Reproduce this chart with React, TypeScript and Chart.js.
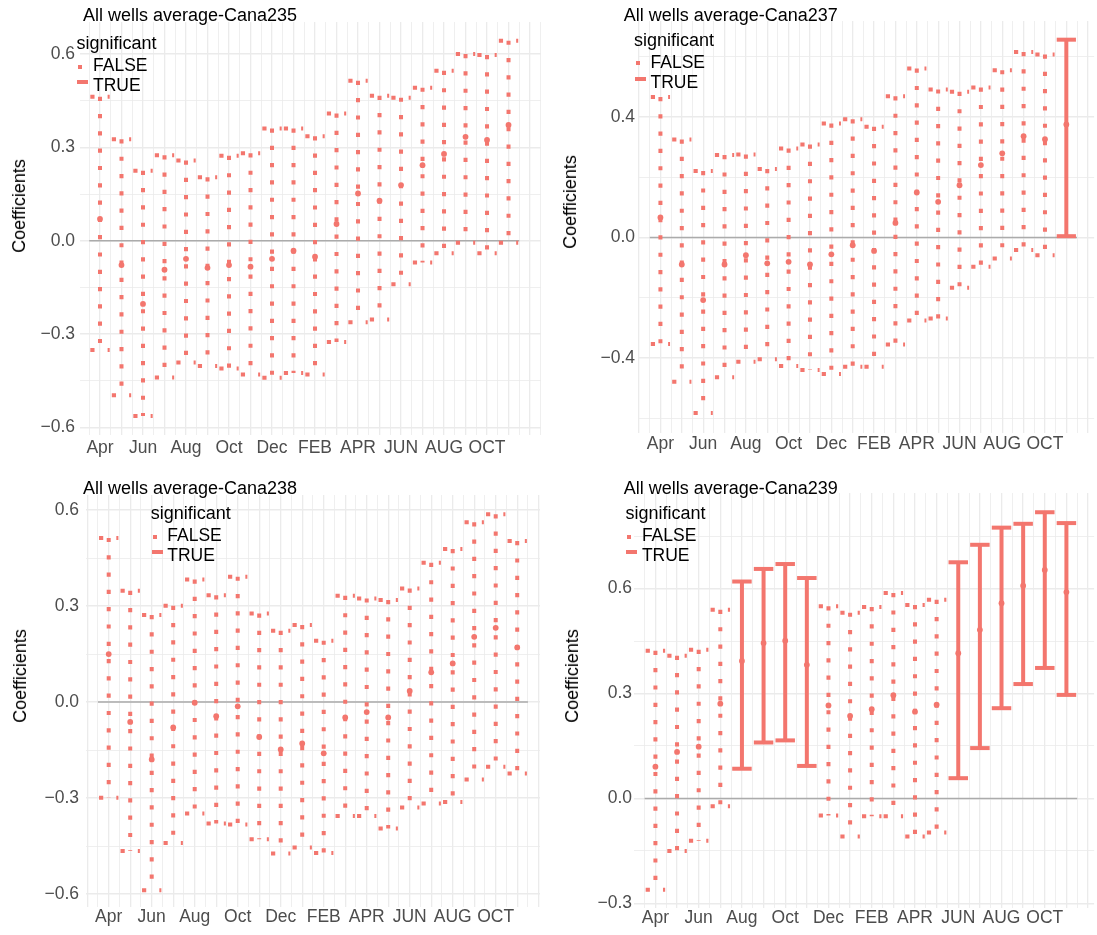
import React, { useEffect, useRef } from "react";
import { Chart, registerables } from "chart.js";

Chart.register(...registerables);

// ---------- categories ----------
const MONTHS = ["Apr", "May", "Jun", "Jul", "Aug", "Sep", "Oct", "Nov", "Dec", "Jan", "FEB", "MAR", "APR", "MAY", "JUN", "JUL", "AUG", "SEP", "OCT", "NOV"];

// ---------- Cana235 ----------
const CANA235_EST = [0.070, -0.078, -0.203, -0.093, -0.058, -0.087, -0.078, -0.083, -0.058, -0.032, -0.051, 0.054, 0.152, 0.129, 0.179, 0.243, 0.279, 0.334, 0.324, 0.372];
const CANA235_LOW = [-0.351, -0.496, -0.563, -0.439, -0.391, -0.402, -0.410, -0.430, -0.440, -0.425, -0.430, -0.325, -0.262, -0.253, -0.140, -0.070, -0.040, -0.006, -0.040, -0.006];
const CANA235_HIGH = [0.463, 0.326, 0.225, 0.275, 0.258, 0.204, 0.273, 0.281, 0.361, 0.361, 0.336, 0.409, 0.514, 0.466, 0.460, 0.492, 0.546, 0.600, 0.597, 0.643];
const CANA235_SIG = [false, false, false, false, false, false, false, false, false, false, false, false, false, false, false, false, false, false, false, false];

// ---------- Cana237 ----------
const CANA237_EST = [0.066, -0.090, -0.208, -0.090, -0.059, -0.086, -0.081, -0.090, -0.056, -0.026, -0.045, 0.048, 0.149, 0.118, 0.173, 0.240, 0.279, 0.336, 0.326, 0.375];
const CANA237_LOW = [-0.354, -0.479, -0.583, -0.464, -0.413, -0.404, -0.427, -0.440, -0.453, -0.429, -0.429, -0.355, -0.276, -0.269, -0.167, -0.097, -0.070, -0.042, -0.059, 0.004];
const CANA237_HIGH = [0.466, 0.325, 0.220, 0.273, 0.275, 0.227, 0.295, 0.308, 0.378, 0.392, 0.367, 0.468, 0.560, 0.491, 0.483, 0.497, 0.555, 0.615, 0.607, 0.656];
const CANA237_SIG = [false, false, false, false, false, false, false, false, false, false, false, false, false, false, false, false, false, false, false, true];

// ---------- Cana238 ----------
const CANA238_EST = [0.150, -0.062, -0.179, -0.079, -0.002, -0.044, -0.013, -0.109, -0.148, -0.129, -0.160, -0.048, -0.031, -0.048, 0.035, 0.093, 0.121, 0.204, 0.232, 0.171];
const CANA238_LOW = [-0.299, -0.465, -0.588, -0.440, -0.348, -0.379, -0.382, -0.428, -0.473, -0.454, -0.471, -0.356, -0.356, -0.395, -0.329, -0.317, -0.312, -0.242, -0.202, -0.223];
const CANA238_HIGH = [0.513, 0.348, 0.272, 0.301, 0.383, 0.334, 0.392, 0.277, 0.223, 0.241, 0.192, 0.332, 0.324, 0.319, 0.355, 0.435, 0.478, 0.562, 0.587, 0.503];
const CANA238_SIG = [false, false, false, false, false, false, false, false, false, false, false, false, false, false, false, false, false, false, false, false];

// ---------- Cana239 ----------
const CANA239_EST = [0.091, 0.133, 0.148, 0.271, 0.393, 0.444, 0.451, 0.382, 0.266, 0.236, 0.255, 0.295, 0.248, 0.268, 0.415, 0.482, 0.558, 0.608, 0.653, 0.590];
const CANA239_LOW = [-0.261, -0.150, -0.121, -0.022, 0.085, 0.160, 0.166, 0.093, -0.049, -0.109, -0.051, -0.051, -0.109, -0.097, 0.058, 0.144, 0.258, 0.327, 0.373, 0.296];
const CANA239_HIGH = [0.422, 0.408, 0.425, 0.539, 0.620, 0.656, 0.670, 0.630, 0.549, 0.531, 0.547, 0.587, 0.553, 0.568, 0.675, 0.725, 0.774, 0.785, 0.818, 0.787];
const CANA239_SIG = [false, false, false, false, true, true, true, true, false, false, false, false, false, false, true, true, true, true, true, true];

// ---------- y tick values ----------
const Y235_MAJOR = [-0.6, -0.3, 0.0, 0.3, 0.6];
const Y235_MINOR = [-0.45, -0.15, 0.15, 0.45];
const Y237_MAJOR = [-0.4, 0.0, 0.4];
const Y237_MINOR = [-0.6, -0.2, 0.2, 0.6];
const Y238_MAJOR = [-0.6, -0.3, 0.0, 0.3, 0.6];
const Y238_MINOR = [-0.45, -0.15, 0.15, 0.45];
const Y239_MAJOR = [-0.3, 0.0, 0.3, 0.6];
const Y239_MINOR = [-0.15, 0.15, 0.45, 0.75];

const LEGEND_TITLE = "significant";
const LEGEND_LABELS = ["FALSE", "TRUE"];
const Y_TITLE = "Coefficients";

// ---------- styles ----------
const FONT = "'Liberation Sans', Arial, Helvetica, sans-serif";
const BAR_COLOR = "#F3766E";
const ZERO_COLOR = "#ABABAB";
const GRID_COLOR = "#EBEBEB";
const TICK_COLOR = "#4D4D4D";
const TEXT_SIZE = 17.5;
const CAP_HALF_WIDTH = 0.45;

type PanelCfg = {
  title: string;
  est: number[];
  low: number[];
  high: number[];
  sig: boolean[];
  yMajor: number[];
  yMinor: number[];
  box: { x: number; y: number; w: number; h: number };
  area: { l: number; r: number; t: number; b: number };
  xRange: [number, number];
  yRange: [number, number];
  yPad: number;
  xPad: number;
  titlePos: { x: number; y: number };
  yTitlePos: { x: number; y: number };
  legendPos: { x: number; y: number };
};

const PANELS: PanelCfg[] = [
  {
    title: "All wells average-Cana235",
    est: CANA235_EST, low: CANA235_LOW, high: CANA235_HIGH, sig: CANA235_SIG,
    yMajor: Y235_MAJOR, yMinor: Y235_MINOR,
    box: { x: 0, y: 0, w: 548, h: 467 },
    area: { l: 80, r: 541, t: 22, b: 435 },
    xRange: [-0.93, 20.51], yRange: [-0.624, 0.703],
    yPad: 5, xPad: 3,
    titlePos: { x: 83, y: 15 }, yTitlePos: { x: 19, y: 206 }, legendPos: { x: 76.5, y: 43.3 },
  },
  {
    title: "All wells average-Cana237",
    est: CANA237_EST, low: CANA237_LOW, high: CANA237_HIGH, sig: CANA237_SIG,
    yMajor: Y237_MAJOR, yMinor: Y237_MINOR,
    box: { x: 548, y: 0, w: 549, h: 467 },
    area: { l: 638, r: 1097, t: 21, b: 433 },
    xRange: [-1.05, 20.3], yRange: [-0.649, 0.718],
    yPad: 3, xPad: 1,
    titlePos: { x: 623.7, y: 15 }, yTitlePos: { x: 570, y: 202 }, legendPos: { x: 634, y: 40 },
  },
  {
    title: "All wells average-Cana238",
    est: CANA238_EST, low: CANA238_LOW, high: CANA238_HIGH, sig: CANA238_SIG,
    yMajor: Y238_MAJOR, yMinor: Y238_MINOR,
    box: { x: 0, y: 467, w: 548, h: 468 },
    area: { l: 86, r: 540, t: 495, b: 907 },
    xRange: [-1.056, 20.06], yRange: [-0.640, 0.647],
    yPad: 7, xPad: 0,
    titlePos: { x: 83, y: 488.3 }, yTitlePos: { x: 20, y: 676 }, legendPos: { x: 150.8, y: 513.3 },
  },
  {
    title: "All wells average-Cana239",
    est: CANA239_EST, low: CANA239_LOW, high: CANA239_HIGH, sig: CANA239_SIG,
    yMajor: Y239_MAJOR, yMinor: Y239_MINOR,
    box: { x: 548, y: 467, w: 549, h: 468 },
    area: { l: 634, r: 1097, t: 493, b: 908 },
    xRange: [-0.99, 20.28], yRange: [-0.313, 0.873],
    yPad: 2, xPad: 0,
    titlePos: { x: 623.7, y: 488.3 }, yTitlePos: { x: 572, y: 676 }, legendPos: { x: 625.4, y: 513.3 },
  },
];

function fmtY(v: number): string {
  const s = Math.abs(v).toFixed(1);
  return v < -1e-9 ? "\u2212" + s : s;
}

function isIn(v: number, list: number[]) {
  return list.some((m) => Math.abs(m - v) < 1e-6);
}

function makeErrorBarPlugin(p: PanelCfg) {
  return {
    id: "errorBars",
    beforeDatasetsDraw(chart: any) {
      const { ctx, chartArea } = chart;
      const x = chart.scales.x;
      const y = chart.scales.y;
      ctx.save();
      ctx.beginPath();
      ctx.rect(chartArea.left, chartArea.top, chartArea.right - chartArea.left, chartArea.bottom - chartArea.top);
      ctx.clip();
      // zero reference line across the data range
      ctx.setLineDash([]);
      ctx.strokeStyle = ZERO_COLOR;
      ctx.lineWidth = 1.5;
      ctx.beginPath();
      ctx.moveTo(x.getPixelForValue(-0.5), y.getPixelForValue(0));
      ctx.lineTo(x.getPixelForValue(MONTHS.length - 0.5), y.getPixelForValue(0));
      ctx.stroke();
      // error bars
      ctx.strokeStyle = BAR_COLOR;
      ctx.lineCap = "butt";
      const seg = (x1: number, y1: number, x2: number, y2: number) => {
        ctx.beginPath();
        ctx.moveTo(x1, y1);
        ctx.lineTo(x2, y2);
        ctx.stroke();
      };
      p.low.forEach((lo, i) => {
        const hi = p.high[i];
        const sig = p.sig[i];
        ctx.lineWidth = 4;
        ctx.setLineDash(sig ? [] : [4.2, 13.1]);
        const xc = x.getPixelForValue(i);
        const xl = x.getPixelForValue(i - CAP_HALF_WIDTH);
        const xr = x.getPixelForValue(i + CAP_HALF_WIDTH);
        const yt = y.getPixelForValue(hi);
        const yb = y.getPixelForValue(lo);
        seg(xl, yt, xr, yt);
        seg(xc, yt, xc, yb);
        seg(xl, yb, xr, yb);
      });
      ctx.restore();
    },
  };
}

function Panel({ p }: { p: PanelCfg }) {
  const ref = useRef<HTMLCanvasElement | null>(null);
  const W = p.box.w;
  const H = p.box.h;

  useEffect(() => {
    const canvas = ref.current;
    if (!canvas) return;
    const xGrid: number[] = [];
    for (let k = -4; k <= MONTHS.length * 2 + 4; k++) {
      const v = k / 2;
      if (v >= p.xRange[0] - 1e-9 && v <= p.xRange[1] + 1e-9) xGrid.push(v);
    }
    const yGrid = [...p.yMajor, ...p.yMinor]
      .filter((v) => v >= p.yRange[0] && v <= p.yRange[1])
      .sort((a, b) => a - b);

    const chart = new Chart(canvas, {
      type: "scatter",
      data: {
        datasets: [
          {
            label: "estimate",
            data: p.est.map((v, i) => ({ x: i, y: v })),
            pointRadius: 2.9,
            pointHoverRadius: 2.9,
            pointBackgroundColor: BAR_COLOR,
            pointBorderWidth: 0,
            pointBorderColor: BAR_COLOR,
          },
        ],
      },
      options: {
        responsive: false,
        animation: false,
        events: [],
        devicePixelRatio: 1,
        layout: {
          padding: { left: 0, top: p.area.t - p.box.y, right: p.box.x + W - p.area.r, bottom: 0 },
        },
        plugins: {
          legend: { display: false },
          tooltip: { enabled: false },
          title: { display: false },
        },
        scales: {
          x: {
            type: "linear",
            min: p.xRange[0],
            max: p.xRange[1],
            afterBuildTicks: (s: any) => {
              s.ticks = xGrid.map((v) => ({ value: v }));
            },
            afterFit: (s: any) => {
              s.height = p.box.y + H - p.area.b;
            },
            ticks: {
              autoSkip: false,
              maxRotation: 0,
              minRotation: 0,
              padding: p.xPad,
              color: TICK_COLOR,
              font: { family: FONT, size: TEXT_SIZE },
              callback: (value: any) => {
                const i = Number(value);
                if (Number.isInteger(i) && i >= 0 && i < MONTHS.length && i % 2 === 0) return MONTHS[i];
                return "";
              },
            },
            grid: {
              color: GRID_COLOR,
              drawTicks: false,
              lineWidth: (c: any) => (c.tick && Number.isInteger(c.tick.value) ? 1.3 : 0.8),
            },
            border: { display: false },
          },
          y: {
            type: "linear",
            position: "left",
            min: p.yRange[0],
            max: p.yRange[1],
            afterBuildTicks: (s: any) => {
              s.ticks = yGrid.map((v) => ({ value: v }));
            },
            afterFit: (s: any) => {
              s.width = p.area.l - p.box.x;
            },
            ticks: {
              autoSkip: false,
              padding: p.yPad,
              color: TICK_COLOR,
              font: { family: FONT, size: TEXT_SIZE },
              callback: (value: any) => {
                const v = Number(value);
                return isIn(v, p.yMajor) ? fmtY(v) : "";
              },
            },
            grid: {
              color: GRID_COLOR,
              drawTicks: false,
              lineWidth: (c: any) => (c.tick && isIn(c.tick.value, p.yMajor) ? 1.4 : 0.8),
            },
            border: { display: false },
          },
        },
      } as any,
      plugins: [makeErrorBarPlugin(p)],
    });
    return () => chart.destroy();
  }, [p]);

  const bx = p.box.x;
  const by = p.box.y;
  const text: React.CSSProperties = {
    position: "absolute",
    fontFamily: FONT,
    fontSize: TEXT_SIZE,
    lineHeight: "20px",
    whiteSpace: "nowrap",
    color: "#000",
  };
  const lx = p.legendPos.x - bx;
  const ly = p.legendPos.y - by;

  return (
    <div style={{ position: "absolute", left: bx, top: by, width: W, height: H }}>
      <canvas ref={ref} width={W} height={H} style={{ display: "block", width: W, height: H }} />
      <div style={{ ...text, fontSize: 18, left: p.titlePos.x - bx, top: p.titlePos.y - by - 10 }}>{p.title}</div>
      <div
        style={{
          ...text,
          fontSize: 18,
          left: p.yTitlePos.x - bx,
          top: p.yTitlePos.y - by,
          transform: "translate(-50%, -50%) rotate(-90deg)",
        }}
      >
        {Y_TITLE}
      </div>
      <div style={{ ...text, fontSize: 18, left: lx, top: ly - 10 }}>{LEGEND_TITLE}</div>
      <div
        style={{
          position: "absolute",
          left: lx + 1.8,
          top: ly + 23.4 - 2,
          width: 4.2,
          height: 4,
          background: BAR_COLOR,
        }}
      />
      <div style={{ ...text, left: lx + 16.5, top: ly + 22 - 10 }}>{LEGEND_LABELS[0]}</div>
      <div
        style={{
          position: "absolute",
          left: lx + 0.8,
          top: ly + 38.5 - 2,
          width: 11,
          height: 4,
          background: BAR_COLOR,
        }}
      />
      <div style={{ ...text, left: lx + 16.5, top: ly + 42 - 10 }}>{LEGEND_LABELS[1]}</div>
    </div>
  );
}

export default function App() {
  return (
    <div style={{ position: "absolute", left: 0, top: 0, width: 1097, height: 935, background: "#fff" }}>
      {PANELS.map((p) => (
        <Panel key={p.title} p={p} />
      ))}
    </div>
  );
}
